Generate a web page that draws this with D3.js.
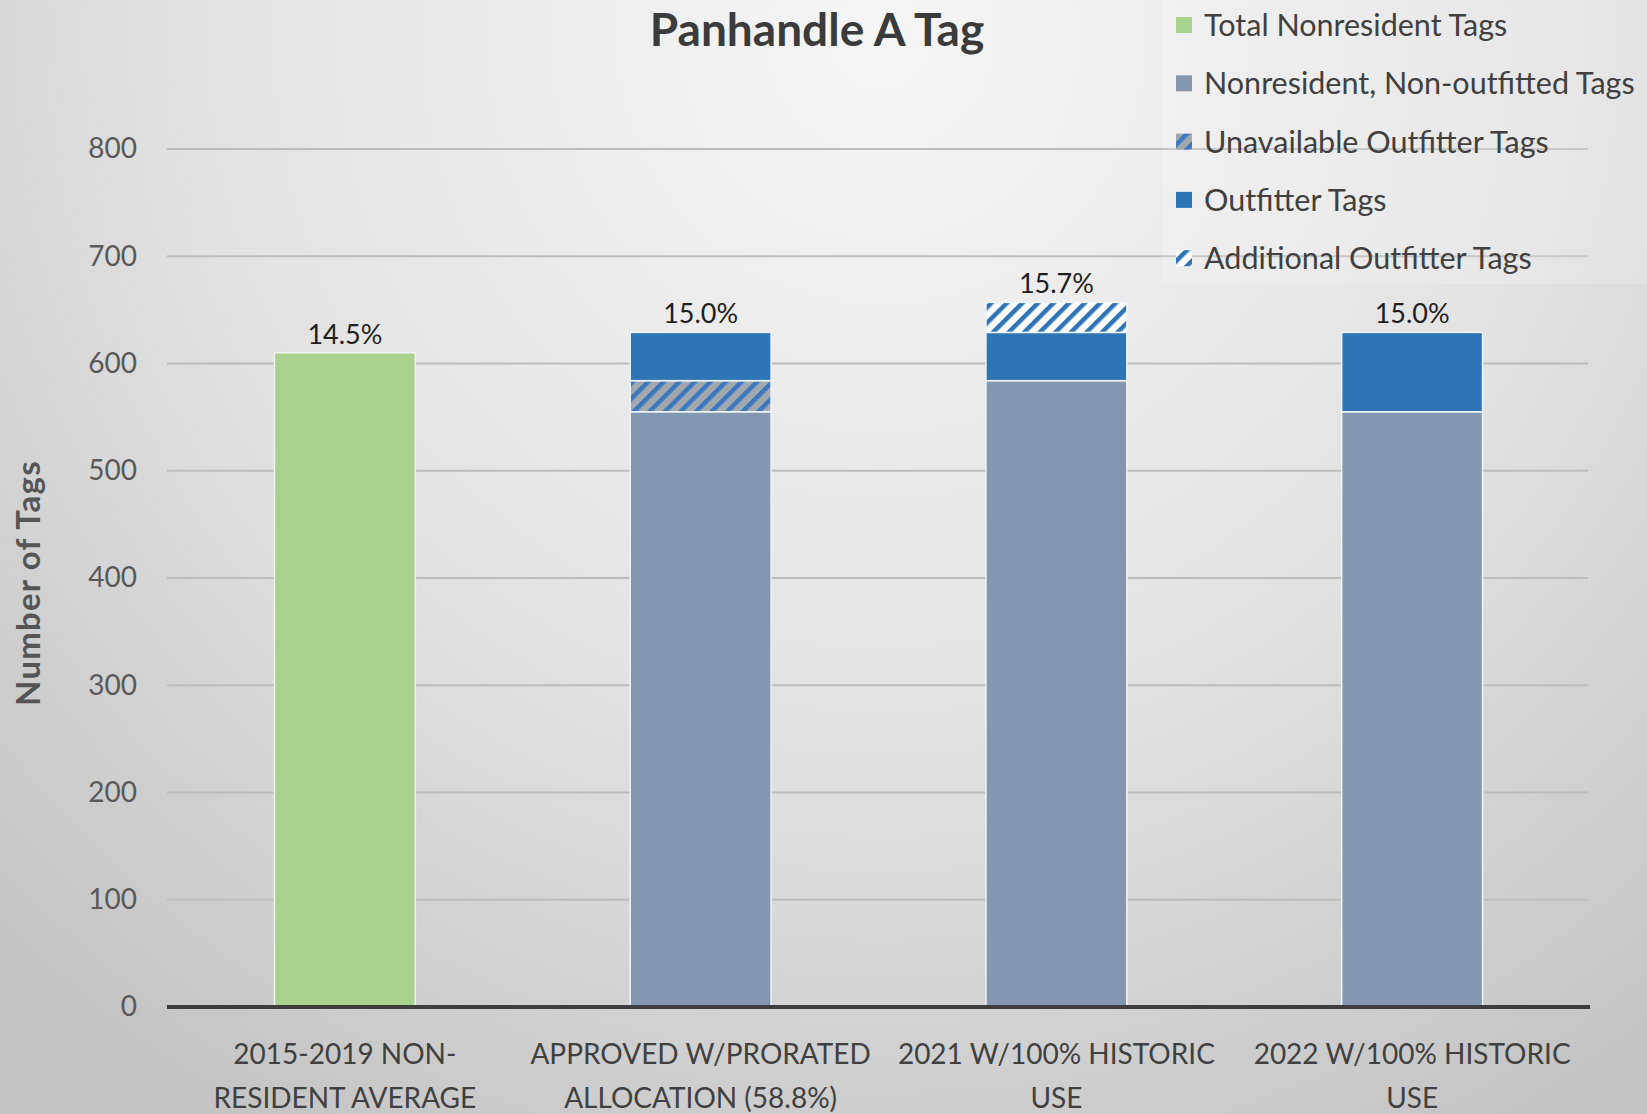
<!DOCTYPE html>
<html>
<head>
<meta charset="utf-8">
<script src="https://cdn.jsdelivr.net/npm/d3@7"></script>
<style>
  body { margin: 0; padding: 0; overflow: hidden; }
  text { font-family: Lato, "Open Sans", sans-serif; }
</style>
</head>
<body>
<div id="my_chart"></div>
<script>

// ======================= //
// DATA
// ======================= //

var categories = ["avg", "approved", "y2021", "y2022"]
var categoryLines = [
  ["2015-2019 NON-", "RESIDENT AVERAGE"],
  ["APPROVED W/PRORATED", "ALLOCATION (58.8%)"],
  ["2021 W/100% HISTORIC", "USE"],
  ["2022 W/100% HISTORIC", "USE"]
]

var seriesKeys = ["total", "nonOutfitted", "unavailable", "outfitter", "additional"]
var seriesNames = ["Total Nonresident Tags", "Nonresident, Non-outfitted Tags", "Unavailable Outfitter Tags", "Outfitter Tags", "Additional Outfitter Tags"]

var totalNonresident = [610, 0, 0, 0]
var nonOutfitted     = [0, 555, 584, 555]
var unavailable      = [0, 29, 0, 0]
var outfitter        = [0, 45, 45, 74]
var additional       = [0, 0, 28, 0]

var pctLabels = ["14.5%", "15.0%", "15.7%", "15.0%"]
var yTicks = [0, 100, 200, 300, 400, 500, 600, 700, 800]

// table for d3.stack
var table = categories.map(function(c, i){
  return { cat: c, total: totalNonresident[i], nonOutfitted: nonOutfitted[i],
           unavailable: unavailable[i], outfitter: outfitter[i], additional: additional[i] }
})


// ======================= //
// SVG AREA
// ======================= //

var W = 1647, H = 1114
var margin = {top: 149, right: 57, bottom: 107, left: 167}

var svg = d3.select("#my_chart")
  .append("svg")
    .attr("width", W)
    .attr("height", H)

var defs = svg.append("defs")

// background gradient
var bg = defs.append("radialGradient")
  .attr("id", "bgGrad")
  .attr("gradientUnits", "userSpaceOnUse")
  .attr("cx", 880).attr("cy", 40).attr("r", 1250)
bg.append("stop").attr("offset", "0%").attr("stop-color", "#f6f6f6")
bg.append("stop").attr("offset", "55%").attr("stop-color", "#e2e2e2")
bg.append("stop").attr("offset", "100%").attr("stop-color", "#c4c4c4")

svg.append("rect")
  .attr("width", W).attr("height", H)
  .attr("fill", "url(#bgGrad)")

// hatch patterns
function hatch(id, bgColor, lineColor){
  var p = defs.append("pattern")
    .attr("id", id)
    .attr("patternUnits", "userSpaceOnUse")
    .attr("width", 11).attr("height", 11)
    .attr("patternTransform", "rotate(45)")
  p.append("rect").attr("width", 11).attr("height", 11).attr("fill", bgColor)
  p.append("rect").attr("x", 0).attr("width", 4.5).attr("height", 11).attr("fill", lineColor)
}
hatch("hatchGray", "#a3a7ae", "#3a78bf")
hatch("hatchWhite", "#ffffff", "#2e75b6")

var fills = {
  total: "#a9d18e",
  nonOutfitted: "#8497b0",
  unavailable: "url(#hatchGray)",
  outfitter: "#2e75b6",
  additional: "url(#hatchWhite)"
}


// ======================= //
// SCALES
// ======================= //

var x = d3.scaleBand()
  .domain(categories)
  .range([margin.left, W - margin.right])
  .paddingInner(0.604)
  .paddingOuter(0.302)

var y = d3.scaleLinear()
  .domain([0, 800])
  .range([H - margin.bottom, margin.top])

// gridlines
svg.append("g")
  .selectAll("line")
  .data(yTicks.filter(function(d){ return d > 0 }))
  .enter()
  .append("line")
    .attr("x1", margin.left)
    .attr("x2", W - margin.right - 2)
    .attr("y1", function(d){ return y(d) })
    .attr("y2", function(d){ return y(d) })
    .style("stroke", "#bcbcbc")
    .style("stroke-width", 2)

// Y axis labels
var yAxis = svg.append("g")
  .attr("transform", "translate(" + margin.left + ",0)")
  .call(d3.axisLeft(y).tickValues(yTicks).tickSize(0).tickPadding(30))
yAxis.select(".domain").remove()
yAxis.selectAll("text")
  .style("font-size", "28px")
  .style("fill", "#595959")
  .style("font-family", "Lato, sans-serif")

// Y title
svg.append("text")
  .attr("transform", "translate(40," + 583 + ")rotate(-90)")
  .style("text-anchor", "middle")
  .style("font-size", "33px")
  .style("font-weight", "bold")
  .style("letter-spacing", "1.2px")
  .style("fill", "#555555")
  .text("Number of Tags")


// ======================= //
// BARS
// ======================= //

var stacked = d3.stack().keys(seriesKeys)(table)

svg.append("g")
  .selectAll("g")
  .data(stacked)
  .enter()
  .append("g")
    .attr("fill", function(d){ return fills[d.key] })
  .selectAll("rect")
  .data(function(d){ return d.filter(function(v){ return v[1] - v[0] > 0 }) })
  .enter()
  .append("rect")
    .attr("x", function(d){ return x(d.data.cat) })
    .attr("y", function(d){ return y(d[1]) })
    .attr("width", x.bandwidth())
    .attr("height", function(d){ return y(d[0]) - y(d[1]) })
    .style("stroke", "#eef4fa")
    .style("stroke-width", 1.5)

// X axis line
svg.append("line")
  .attr("x1", margin.left)
  .attr("x2", W - margin.right)
  .attr("y1", y(0))
  .attr("y2", y(0))
  .style("stroke", "#3d3d3d")
  .style("stroke-width", 4)

// percentage labels on top of stacks
var tops = stacked[stacked.length - 1]
svg.append("g")
  .selectAll("text")
  .data(tops)
  .enter()
  .append("text")
    .attr("x", function(d){ return x(d.data.cat) + x.bandwidth() / 2 })
    .attr("y", function(d){ return y(d[1]) - 9 })
    .style("text-anchor", "middle")
    .style("font-size", "27px")
    .style("fill", "#1e1e1e")
    .text(function(d, i){ return pctLabels[i] })

// X category labels
var xl = svg.append("g")
  .selectAll("text")
  .data(categories)
  .enter()
  .append("text")
    .attr("transform", function(d){ return "translate(" + (x(d) + x.bandwidth() / 2) + ",0)" })
    .style("text-anchor", "middle")
    .style("font-size", "28px")
    .style("fill", "#404040")
xl.selectAll("tspan")
  .data(function(d, i){ return categoryLines[i] })
  .enter()
  .append("tspan")
    .attr("x", 0)
    .attr("y", function(d, j){ return 1064 + j * 44 })
    .text(function(d){ return d })


// ======================= //
// TITLE & LEGEND
// ======================= //

svg.append("text")
  .attr("x", 817)
  .attr("y", 46)
  .style("text-anchor", "middle")
  .style("font-size", "46px")
  .style("font-weight", "bold")
  .style("fill", "#3b3b3b")
  .text("Panhandle A Tag")

svg.append("rect")
  .attr("x", 1162).attr("y", 0)
  .attr("width", W - 1162).attr("height", 284)
  .attr("fill", "#ffffff")
  .attr("opacity", 0.18)

var legend = svg.append("g")
  .selectAll("g")
  .data(seriesKeys)
  .enter()
  .append("g")
    .attr("transform", function(d, i){ return "translate(1176," + (25 + i * 58.3) + ")" })

legend.append("rect")
  .attr("x", 0).attr("y", -8)
  .attr("width", 16).attr("height", 16)
  .attr("fill", function(d){ return fills[d] })

legend.append("text")
  .attr("x", 28)
  .attr("y", 11)
  .style("font-size", "30.5px")
  .style("fill", "#404040")
  .text(function(d, i){ return seriesNames[i] })

</script>
</body>
</html>
